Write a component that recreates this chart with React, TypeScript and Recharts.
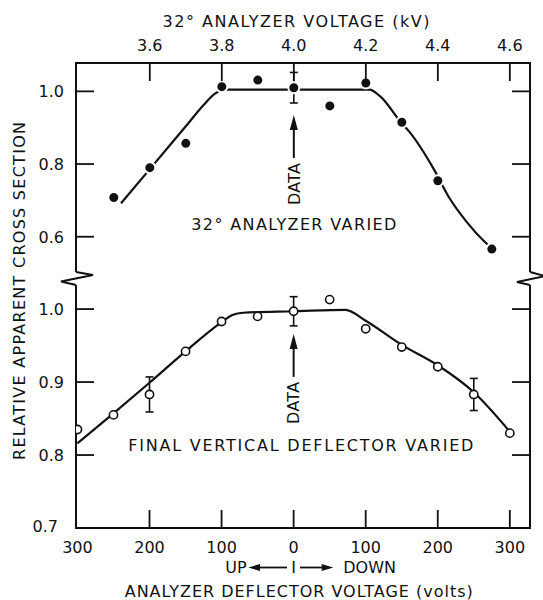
import React from "react";
import { ComposedChart, Line, Scatter, XAxis, YAxis, ErrorBar, ReferenceDot } from "recharts";

// Upper panel: 32° analyzer varied (kV on the top axis)
const upperKv = [3.5, 3.6, 3.7, 3.8, 3.9, 4.0, 4.1, 4.2, 4.3, 4.4, 4.55];
const upperVal = [0.708, 0.79, 0.857, 1.013, 1.031, 1.01, 0.96, 1.023, 0.915, 0.754, 0.566];
const upperErrKv = [4.0];
const upperErrVal = [1.01];
const upperErr = [0.042];
const upperFitKv = [3.52, 3.6, 3.7, 3.75, 3.78, 3.81, 4.21, 4.24, 4.3, 4.32, 4.39, 4.43, 4.48, 4.53, 4.55];
const upperFitVal = [0.692, 0.786, 0.904, 0.963, 0.993, 1.005, 1.005, 0.986, 0.912, 0.89, 0.784, 0.71, 0.641, 0.586, 0.568];

// Lower panel: final vertical deflector varied (volts, "up" is negative)
const lowerVolts = [-300, -250, -200, -150, -100, -50, 0, 50, 100, 150, 200, 250, 300];
const lowerVal = [0.835, 0.855, 0.883, 0.942, 0.983, 0.99, 0.997, 1.013, 0.973, 0.948, 0.921, 0.883, 0.83];
const lowerErrVolts = [-200, 0, 250];
const lowerErrVal = [0.883, 0.997, 0.883];
const lowerErr = [0.024, 0.02, 0.022];
const lowerFitVolts = [-300, -250, -200, -150, -100, -85, -70, 0, 72, 100, 150, 200, 250, 300];
const lowerFitVal = [0.816, 0.857, 0.899, 0.942, 0.982, 0.992, 0.995, 0.997, 0.999, 0.984, 0.951, 0.923, 0.886, 0.832];

const kvTicks = [3.6, 3.8, 4.0, 4.2, 4.4, 4.6];
const voltTicks = [-300, -200, -100, 0, 100, 200, 300];
const upperYTicks = [0.6, 0.8, 1.0];
const lowerYTicks = [0.7, 0.8, 0.9, 1.0];

// annotation anchors (data coordinates)
const upperArrowAt = [4.0, 0.935];
const lowerArrowAt = [0, 0.966];
const upperLabelAt = [4.0, 0.635];
const lowerLabelAt = [10, 0.814];

const zip = (xs: number[], ys: number[]) => xs.map((x, i) => ({ x, y: ys[i] }));
const upperPoints = zip(upperKv, upperVal);
const upperFit = zip(upperFitKv, upperFitVal);
const upperBars = upperErrKv.map((x, i) => ({ x, y: upperErrVal[i], err: upperErr[i] }));
const lowerPoints = zip(lowerVolts, lowerVal);
const lowerFit = zip(lowerFitVolts, lowerFitVal);
const lowerBars = lowerErrVolts.map((x, i) => ({ x, y: lowerErrVal[i], err: lowerErr[i] }));

// layout
const W = 543;
const H = 600;
const LEFT = 76;
const RIGHT = 530;
const TOP = 63;
const BREAK_TOP = 272;
const BREAK_BOTTOM = 285;
const BOTTOM = 528;
const YAXIS_W = 60;
const TICK = 18;
const INK = "#111";
const FONT = "'DejaVu Sans', sans-serif";

const txt = { fontFamily: FONT, fontSize: 16, fill: INK };
const axisLine = { stroke: INK, strokeWidth: 2, strokeLinecap: "square" as const };

const TopTick = (p: any) => (
  <g>
    <line x1={p.x} y1={p.y} x2={p.x} y2={p.y + TICK} stroke={INK} strokeWidth={1.8} />
    <text x={p.x} y={p.y - 17.5} dy="0.36em" textAnchor="middle" {...txt}>
      {Number(p.payload.value).toFixed(1)}
    </text>
  </g>
);

const BottomTick = (p: any) => (
  <g>
    {p.payload.value > -300 && (
      <line x1={p.x} y1={p.y} x2={p.x} y2={p.y - TICK} stroke={INK} strokeWidth={1.8} />
    )}
    <text x={p.x} y={p.y + 19.5} dy="0.36em" textAnchor="middle" {...txt}>
      {Math.abs(p.payload.value)}
    </text>
  </g>
);

const LeftTick = (p: any) => {
  const corner = p.payload.value === 0.7;
  return (
    <g>
      {!corner && <line x1={p.x} y1={p.y} x2={p.x + TICK} y2={p.y} stroke={INK} strokeWidth={1.8} />}
      <text x={p.x - (corner ? 18 : 12)} y={p.y - (corner ? 2 : 0)} dy="0.36em" textAnchor="end" {...txt}>
        {Number(p.payload.value).toFixed(1)}
      </text>
    </g>
  );
};

const RightTick = (p: any) =>
  p.payload.value === 0.7 ? <g /> : (
    <line x1={p.x} y1={p.y} x2={p.x - TICK} y2={p.y} stroke={INK} strokeWidth={1.8} />
  );

const DataArrow = (p: any) => {
  const { cx, cy } = p;
  return (
    <g>
      <line x1={cx} y1={cy + 10} x2={cx} y2={cy + 43} stroke={INK} strokeWidth={2} />
      <path d={`M${cx},${cy} L${cx - 4},${cy + 15} L${cx + 4},${cy + 15} Z`} fill={INK} />
      <text
        transform={`translate(${cx},${cy + 69}) rotate(-90)`}
        dy="0.36em"
        textAnchor="middle"
        textLength={42}
        lengthAdjust="spacing"
        {...txt}
      >
        DATA
      </text>
    </g>
  );
};

const centerText = (label: string, len: number) => (p: any) => (
  <text x={p.cx} y={p.cy} dy="0.36em" textAnchor="middle" textLength={len} lengthAdjust="spacing" {...txt}>
    {label}
  </text>
);

const FilledDot = (p: any) => <circle cx={p.cx} cy={p.cy} r={5.5} fill={INK} stroke="#fff" strokeWidth={2} />;
const OpenDot = (p: any) => <circle cx={p.cx} cy={p.cy} r={4.1} fill="#fff" stroke={INK} strokeWidth={1.6} />;
const NoDot = () => <g />;

function UpperPanel() {
  return (
    <ComposedChart
      width={W}
      height={BREAK_TOP}
      margin={{ top: TOP - 30, right: 0, bottom: 0, left: LEFT - YAXIS_W }}
    >
      <XAxis
        dataKey="x"
        type="number"
        orientation="top"
        height={30}
        domain={[3.395, 4.656]}
        allowDataOverflow
        ticks={kvTicks}
        interval={0}
        tickSize={0}
        tickMargin={0}
        tickLine={false}
        axisLine={axisLine}
        tick={TopTick}
      />
      <YAxis
        dataKey="y"
        type="number"
        width={YAXIS_W}
        domain={[0.503, 1.078]}
        allowDataOverflow
        ticks={upperYTicks}
        interval={0}
        tickSize={0}
        tickMargin={0}
        tickLine={false}
        axisLine={axisLine}
        tick={LeftTick}
      />
      <YAxis
        yAxisId="r"
        dataKey="y"
        type="number"
        orientation="right"
        width={W - RIGHT}
        domain={[0.503, 1.078]}
        allowDataOverflow
        ticks={upperYTicks}
        interval={0}
        tickSize={0}
        tickMargin={0}
        tickLine={false}
        axisLine={axisLine}
        tick={RightTick}
      />
      <Line
        data={upperFit}
        dataKey="y"
        type="monotone"
        stroke={INK}
        strokeWidth={2.2}
        dot={false}
        activeDot={false}
        isAnimationActive={false}
      />
      <Scatter data={upperPoints} shape={FilledDot} isAnimationActive={false} />
      <Scatter data={upperBars} shape={NoDot} isAnimationActive={false}>
        <ErrorBar dataKey="err" direction="y" width={4} stroke={INK} strokeWidth={1.6} />
      </Scatter>
      <ReferenceDot x={upperArrowAt[0]} y={upperArrowAt[1]} r={0} shape={DataArrow} />
      <ReferenceDot x={upperLabelAt[0]} y={upperLabelAt[1]} r={0} shape={centerText("32° ANALYZER VARIED", 205)} />
    </ComposedChart>
  );
}

function LowerPanel() {
  return (
    <ComposedChart
      width={W}
      height={H - BREAK_BOTTOM}
      margin={{ top: 0, right: 0, bottom: 0, left: LEFT - YAXIS_W }}
    >
      <XAxis
        dataKey="x"
        type="number"
        height={H - BOTTOM}
        domain={[-302, 328]}
        allowDataOverflow
        ticks={voltTicks}
        interval={0}
        tickSize={0}
        tickMargin={0}
        tickLine={false}
        axisLine={axisLine}
        tick={BottomTick}
      />
      <YAxis
        dataKey="y"
        type="number"
        width={YAXIS_W}
        domain={[0.7, 1.033]}
        allowDataOverflow
        ticks={lowerYTicks}
        interval={0}
        tickSize={0}
        tickMargin={0}
        tickLine={false}
        axisLine={axisLine}
        tick={LeftTick}
      />
      <YAxis
        yAxisId="r"
        dataKey="y"
        type="number"
        orientation="right"
        width={W - RIGHT}
        domain={[0.7, 1.033]}
        allowDataOverflow
        ticks={lowerYTicks}
        interval={0}
        tickSize={0}
        tickMargin={0}
        tickLine={false}
        axisLine={axisLine}
        tick={RightTick}
      />
      <Line
        data={lowerFit}
        dataKey="y"
        type="monotone"
        stroke={INK}
        strokeWidth={2.2}
        dot={false}
        activeDot={false}
        isAnimationActive={false}
      />
      <Scatter data={lowerBars} shape={NoDot} isAnimationActive={false}>
        <ErrorBar dataKey="err" direction="y" width={4} stroke={INK} strokeWidth={1.6} />
      </Scatter>
      <Scatter data={lowerPoints} shape={OpenDot} isAnimationActive={false} />
      <ReferenceDot x={lowerArrowAt[0]} y={lowerArrowAt[1]} r={0} shape={DataArrow} />
      <ReferenceDot
        x={lowerLabelAt[0]}
        y={lowerLabelAt[1]}
        r={0}
        shape={centerText("FINAL VERTICAL DEFLECTOR VARIED", 345)}
      />
    </ComposedChart>
  );
}

// titles, axis-break marks and the UP / DOWN legend that span both panels
function Overlay() {
  const leftBreak = `M${LEFT},${BREAK_TOP} L${LEFT + 17},${BREAK_TOP + 3} L${LEFT - 15},${BREAK_TOP + 9.5} L${LEFT},${BREAK_BOTTOM}`;
  const rightBreak = `M${RIGHT},${BREAK_TOP} L${RIGHT + 15},${BREAK_TOP + 4} L${RIGHT - 13},${BREAK_TOP + 10} L${RIGHT},${BREAK_BOTTOM}`;
  return (
    <svg width={W} height={H} style={{ position: "absolute", left: 0, top: 0, pointerEvents: "none" }}>
      <path d={leftBreak} fill="none" stroke={INK} strokeWidth={2} strokeLinejoin="miter" />
      <path d={rightBreak} fill="none" stroke={INK} strokeWidth={2} strokeLinejoin="miter" />
      <text x={296} y={21.7} dy="0.36em" textAnchor="middle" textLength={267} lengthAdjust="spacing" {...txt}>
        32° ANALYZER VOLTAGE (kV)
      </text>
      <text
        transform="translate(19,291) rotate(-90)"
        dy="0.36em"
        textAnchor="middle"
        textLength={338}
        lengthAdjust="spacing"
        {...txt}
      >
        RELATIVE APPARENT CROSS SECTION
      </text>
      <text x={246.7} y={567.5} dy="0.36em" textAnchor="end" {...txt}>UP</text>
      <line x1={258} y1={567.5} x2={287} y2={567.5} stroke={INK} strokeWidth={1.8} />
      <path d="M248.3,567.5 L260,564 L260,571 Z" fill={INK} />
      <text x={293.6} y={567.5} dy="0.36em" textAnchor="middle" {...txt}>I</text>
      <line x1={300} y1={567.5} x2={323} y2={567.5} stroke={INK} strokeWidth={1.8} />
      <path d="M333.3,567.5 L321.7,564 L321.7,571 Z" fill={INK} />
      <text x={343.3} y={567.5} dy="0.36em" textAnchor="start" {...txt}>DOWN</text>
      <text x={298.7} y={591.5} dy="0.36em" textAnchor="middle" textLength={348} lengthAdjust="spacing" {...txt}>
        ANALYZER DEFLECTOR VOLTAGE (volts)
      </text>
    </svg>
  );
}

export default function App() {
  return (
    <div style={{ position: "relative", width: W, height: H, background: "#fff", overflow: "hidden" }}>
      <style>{"body{margin:0}"}</style>
      <div style={{ position: "absolute", left: 0, top: 0 }}>
        <UpperPanel />
      </div>
      <div style={{ position: "absolute", left: 0, top: BREAK_BOTTOM }}>
        <LowerPanel />
      </div>
      <Overlay />
    </div>
  );
}
